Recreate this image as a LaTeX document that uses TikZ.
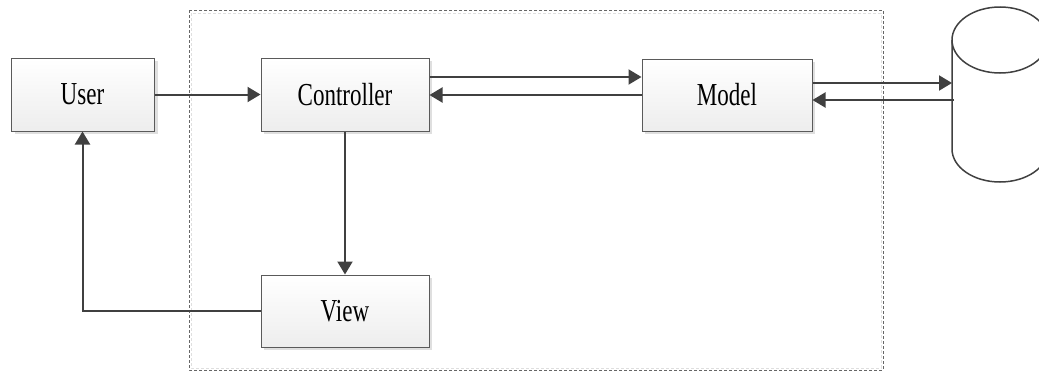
\documentclass[tikz,border=0pt]{standalone}
\usepackage{fontspec}
\setmainfont{Liberation Serif}
\usetikzlibrary{arrows.meta}
\definecolor{linec}{HTML}{404040}
\definecolor{boxborder}{HTML}{5A5A5A}
\tikzset{
  box/.style={draw=boxborder, line width=1pt, top color=white, bottom color=gray!14,
    minimum width=168pt, minimum height=72pt, inner sep=0pt, font=\fontsize{32}{36}\selectfont},
  boxshadow/.style={fill=gray!25, draw=none},
  conn/.style={draw=linec, line width=2pt, -{Triangle[length=13pt,width=15pt]}},
  frame/.style={draw=gray!80!black, line width=0.8pt, dash pattern=on 3pt off 2pt},
}
\newcommand{\lbl}[1]{\scalebox{0.72}[1]{#1}}
\begin{document}
\begin{tikzpicture}[x=1pt,y=-1pt]
\useasboundingbox (0,0) rectangle (1039,372);
\clip (0,0) rectangle (1039,372);
% frame
\draw[gray!25, line width=0.8pt, dash pattern=on 3pt off 2pt] (191,13) rectangle (881,368);
\draw[frame] (189,10) rectangle (883,370);
% shadows
\fill[boxshadow] (14.5,61) rectangle (157.5,134);
\fill[boxshadow] (264,61) rectangle (432,134);
\fill[boxshadow] (645,62) rectangle (815,134);
\fill[boxshadow] (264,278) rectangle (432,350);
% boxes
\node[box, minimum width=143pt, minimum height=73pt] (user) at (82.5,94.5) {\lbl{User}};
\node[box, minimum height=73pt] (ctrl) at (345,94.5) {\lbl{Controller}};
\node[box, minimum width=170pt] (model) at (727,95) {\lbl{Model}};
\node[box] (view) at (345,311) {\lbl{View}};
% database cylinder
\draw[linec, line width=1.5pt] (952,40) -- (952,149)
  arc[start angle=180, end angle=360, x radius=48pt, y radius=33pt] -- (1048,40);
\draw[linec, line width=1.5pt] (1000,40) ellipse [x radius=48pt, y radius=33pt];
\coordinate (dbin) at (952,83);
\coordinate (dbout) at (954,100);
% connectors
\draw[conn] (user.east) -- (ctrl.west);
\draw[conn] (ctrl.east |- 0,77) -- (model.west |- 0,77);
\draw[conn] (model.west |- 0,95) -- (ctrl.east |- 0,95);
\draw[conn] (model.east |- dbin) -- (dbin);
\draw[conn] (dbout) -- (model.east |- dbout);
\draw[conn] (ctrl.south) -- (view.north);
\draw[conn] (view.west) -| (user.south);
\end{tikzpicture}
\end{document}
